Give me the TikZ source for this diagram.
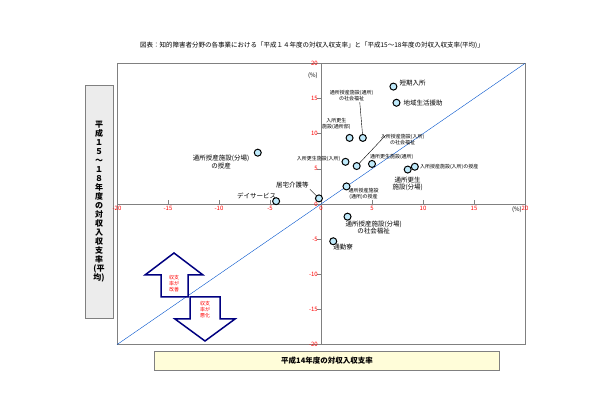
\documentclass[tikz,border=0pt]{standalone}
\usepackage{fontspec}
\setmainfont{Noto Sans CJK JP}
\usetikzlibrary{positioning}
\tikzset{
  dot/.style={circle,draw=black,line width=1pt,fill=cyan!25,inner sep=0pt,minimum size=7pt},
  lab/.style={font=\fontsize{6.5}{7.5}\selectfont,align=center,inner sep=1pt},
  small/.style={font=\fontsize{5}{6}\selectfont,align=center,inner sep=1pt},
  tick/.style={font=\fontsize{6}{7}\selectfont,text=red,inner sep=1pt},
  bigarrow/.style={draw=blue!50!black,line width=1.5pt,fill=white,line join=miter}
}
\begin{document}
\begin{tikzpicture}[x=1pt,y=1pt]
\useasboundingbox (0,0) rectangle (603,418);
\node[font=\fontsize{6.5}{7.5}\selectfont] (title) at (312,373) {図表：知的障害者分野の各事業における「平成１４年度の対収入収支率」と「平成15～18年度の対収入収支率(平均)」};
% axis labels
\node[draw=gray,fill=gray!15,minimum width=28pt,minimum height=233pt] (ybox) at (99,216) {};
\node[font=\fontsize{8}{9}\selectfont\bfseries,align=center] (ylab) at (ybox) {平\\成\\１\\５\\～\\１\\８\\年\\度\\の\\対\\収\\入\\収\\支\\率\\(平\\均)};
\node[draw=gray,fill=yellow!15,minimum width=345pt,minimum height=19pt,font=\fontsize{7.5}{9}\selectfont\bfseries] (xbox) at (327,57) {平成14年度の対収入収支率};
\begin{scope}[shift={(321,214)},x=10.2pt,y=7.03pt]
  \draw[gray] (-20,-20) rectangle (20,20);
  \draw[gray] (-20,0) -- (20,0) (0,-20) -- (0,20);
  \foreach \v in {-20,-15,...,20}{
    \draw[gray] (\v,0) -- (\v,0.5);
    \node[tick,below] at (\v,-0.1) {\v};
    \draw[gray] (0,\v) -- (-0.4,\v);
    \node[tick,left,text=red] at (-0.2,\v) {\v};
  }
  \node[tick,text=black] at (-0.8,18.3) {(\%)};
  \node[tick,text=black] at (19.2,-0.8) {(\%)};
  \draw[blue!60!cyan!80!black] (-20,-20) -- (20,20);
  % points
  \node[dot] (p1) at (7.1,16.7) {};
  \node[lab,right=1pt of p1,yshift=4pt] {短期入所};
  \node[dot] (p2) at (7.4,14.4) {};
  \node[lab,right=2pt of p2] {地域生活援助};
  \node[dot] (p3) at (4.1,9.4) {};
  \node[small] (l3) at (3.0,15.4) {通所授産施設(通所)\\の社会福祉};
  \draw (l3.south) ++(0.8,0) -- (p3);
  \node[dot] (p4) at (2.8,9.4) {};
  \node[small] at (1.5,11.4) {入所更生\\施設(通所部)};
  \node[dot] (p5) at (-6.2,7.3) {};
  \node[lab] at (-9.8,6.0) {通所授産施設(分場)\\の授産};
  \node[dot] (p6) at (2.4,6.0) {};
  \node[small,left=0pt of p6,yshift=3pt] {入所更生施設(入所)};
  \node[dot] (p7) at (3.5,5.4) {};
  \node[small] (l7) at (8.0,9.2) {入所授産施設(入所)\\の社会福祉};
  \draw (l7.west) ++(0.6,0.6) -- (p7);
  \node[dot] (p8) at (5.0,5.7) {};
  \node[small,above right=0pt and -6pt of p8] {通所更生施設(通所)};
  \node[dot] (p9) at (8.5,4.9) {};
  \node[lab,below=2pt of p9] {通所更生\\施設(分場)};
  \node[dot] (p10) at (9.2,5.3) {};
  \node[small,right=0pt of p10] {入所授産施設(入所)の授産};
  \node[dot] (p11) at (2.5,2.5) {};
  \node[small,below right=-2pt and -2pt of p11] {通所授産施設\\(通所)の授産};
  \node[dot] (p12) at (-0.2,0.8) {};
  \node[lab] (l12) at (-2.8,2.7) {居宅介護等};
  \draw (l12.south east) -- (p12);
  \node[dot] (p13) at (-4.4,0.4) {};
  \node[lab,above left=-2pt and -4pt of p13] {デイサービス};
  \node[dot] (p14) at (2.6,-1.8) {};
  \node[lab,below right=0pt and -6pt of p14] {通所授産施設(分場)\\の社会福祉};
  \node[dot] (p15) at (1.2,-5.3) {};
  \node[lab,below right=-1pt and -4pt of p15] {通勤寮};
\end{scope}
% arrows
\draw[bigarrow] (174,165) -- (203,143) -- (188,143) -- (188,121) -- (161,121) -- (161,143) -- (145,143) -- cycle;
\node[small,text=red] (up) at (174,134) {収支\\率が\\改善};
\draw[bigarrow] (205,77) -- (235,99) -- (220,99) -- (220,121) -- (190,121) -- (190,99) -- (175,99) -- cycle;
\node[small,text=red] (down) at (205,108) {収支\\率が\\悪化};
\end{tikzpicture}
\end{document}
